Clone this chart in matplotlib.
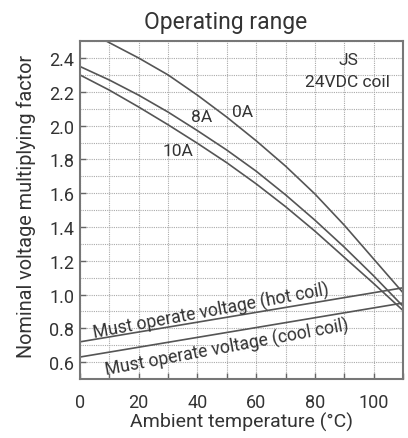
import matplotlib
matplotlib.use("Agg")
import matplotlib.pyplot as plt
from matplotlib.ticker import MultipleLocator

plt.rcParams['font.family'] = ['Roboto', 'DejaVu Sans']

# data
temp_0a = [9, 20, 30, 40, 50, 60, 70, 80, 90, 100, 110]
fac_0a = [2.50, 2.40, 2.30, 2.18, 2.05, 1.91, 1.76, 1.595, 1.41, 1.21, 1.01]
temp_8a = [0, 10, 20, 30, 40, 50, 60, 70, 80, 90, 100, 110]
fac_8a = [2.35, 2.27, 2.18, 2.08, 1.97, 1.855, 1.73, 1.59, 1.44, 1.28, 1.11, 0.93]
temp_10a = [0, 10, 20, 30, 40, 50, 60, 70, 80, 90, 100, 110]
fac_10a = [2.30, 2.21, 2.11, 2.005, 1.895, 1.78, 1.655, 1.52, 1.375, 1.22, 1.065, 0.905]
temp_hot = [0, 110]
fac_hot = [0.72, 1.04]
temp_cool = [0, 110]
fac_cool = [0.63, 0.95]

x_ticks = [0, 20, 40, 60, 80, 100]
y_ticks = [0.6, 0.8, 1.0, 1.2, 1.4, 1.6, 1.8, 2.0, 2.2, 2.4]

line_col = '#555555'
text_col = '#333333'

fig = plt.figure(figsize=(4.08, 4.39), dpi=100)
ax = fig.add_axes([0.196, 0.1344, 0.792, 0.7696])

for t, f in [(temp_0a, fac_0a), (temp_8a, fac_8a), (temp_10a, fac_10a),
             (temp_hot, fac_hot), (temp_cool, fac_cool)]:
    ax.plot(t, f, color=line_col, lw=1.2, solid_capstyle='butt', solid_joinstyle='round')

ax.set_xlim(0, 110)
ax.set_ylim(0.5, 2.5)
ax.set_xticks(x_ticks)
ax.set_yticks(y_ticks)
ax.set_yticklabels([f"{v:.1f}" for v in y_ticks])
ax.xaxis.set_minor_locator(MultipleLocator(10))
ax.yaxis.set_minor_locator(MultipleLocator(0.1))
ax.grid(which='both', color='#aaaaaa', lw=0.8, ls=(0, (1, 1)))
ax.set_axisbelow(True)
ax.tick_params(axis='both', which='major', direction='in', length=4, width=1,
               color='#666666', labelsize=13, labelcolor=text_col)
ax.tick_params(axis='y', which='minor', length=0)
ax.tick_params(axis='x', which='minor', direction='in', length=4, width=1, color='#666666')
ax.tick_params(axis='x', which='major', pad=10)
ax.tick_params(axis='y', which='major', pad=4)
for s in ax.spines.values():
    s.set_color('#777777')
    s.set_linewidth(1.5)

ax.set_xlabel('Ambient temperature (°C)', fontsize=14, color=text_col, labelpad=1)
ax.set_ylabel('Nominal voltage multiplying factor', fontsize=14.3, color=text_col)
ax.yaxis.set_label_coords(-0.137, 0.513)
fig.text(226 / 408, 1 - 22 / 439, 'Operating range', fontsize=16.5, color=text_col,
         ha='center', va='center')

ax.text(55.5, 2.085, '0A', fontsize=12.5, color=text_col, ha='center', va='center')
ax.text(41.5, 2.055, '8A', fontsize=12.5, color=text_col, ha='center', va='center')
ax.text(33.4, 1.85, '10A', fontsize=12.5, color=text_col, ha='center', va='center')
ax.text(91.3, 2.39, 'JS', fontsize=12.5, color=text_col, ha='center', va='center')
ax.text(91.0, 2.26, '24VDC coil', fontsize=12.5, color=text_col, ha='center', va='center')
ax.text(44.5, 0.905, 'Must operate voltage (hot coil)', fontsize=12.7, color=text_col,
        ha='center', va='center', rotation=10.5, rotation_mode='anchor')
ax.text(50, 0.69, 'Must operate voltage (cool coil)', fontsize=12.7, color=text_col,
        ha='center', va='center', rotation=10.5, rotation_mode='anchor')

fig.savefig('out.png', dpi=100)
